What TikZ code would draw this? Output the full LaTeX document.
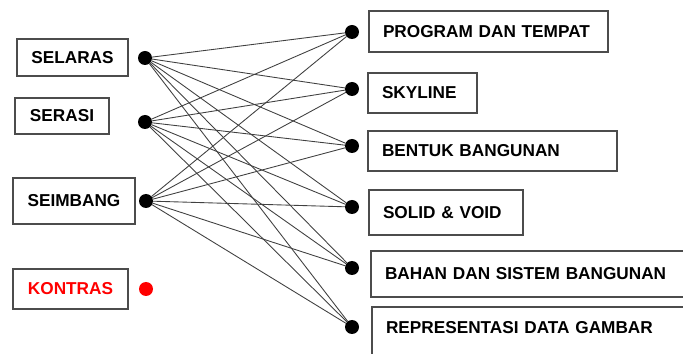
\documentclass[tikz,border=0pt]{standalone}
\usepackage{fontspec}
\setmainfont{Liberation Sans}
\usepackage{tikz}

\begin{document}
\begin{tikzpicture}[x=0.02cm, y=-0.02cm,
    every node/.style={font=\fontsize{9.8}{12}\selectfont\bfseries, outer sep=0pt},
    kiri/.style={draw=black!70, line width=0.7pt, inner sep=0pt},
    kanan/.style={draw=black!70, line width=0.7pt, anchor=west, align=left, inner xsep=0.28cm, inner ysep=0pt, text width=#1},
    titik/.style={circle, fill=black, inner sep=0pt, minimum size=0.28cm},
    garis/.style={draw=black!75, line width=0.5pt}]
    \clip (0,0) rectangle (683,354);

    % kotak kiri
    \node[kiri, minimum width=2.22cm, minimum height=0.74cm] (selaras) at (72.5,57.5) {SELARAS};
    \node[kiri, minimum width=1.88cm, minimum height=0.72cm] (serasi) at (62,116) {SERASI};
    \node[kiri, minimum width=2.44cm, minimum height=0.92cm] (seimbang) at (74,201) {SEIMBANG};
    \node[kiri, minimum width=2.30cm, minimum height=0.80cm, text=red] (kontras) at (70.5,289) {KONTRAS};

    % kotak kanan
    \node[kanan=4.22cm, minimum height=0.82cm] (program) at (369,31.5) {PROGRAM DAN TEMPAT};
    \node[kanan=1.62cm, minimum height=0.80cm] (skyline) at (368,93) {SKYLINE};
    \node[kanan=4.42cm, minimum height=0.80cm] (bentuk) at (368,151) {BENTUK BANGUNAN};
    \node[kanan=2.52cm, minimum height=0.90cm] (solid) at (369,212.5) {SOLID \& VOID};
    \node[kanan=6.02cm, minimum height=0.92cm] (bahan) at (371,274) {BAHAN DAN SISTEM BANGUNAN};
    \node[kanan=6.02cm, anchor=north west, inner ysep=0.27cm, text height=0.26cm, text depth=1.2cm] (representasi) at (372,307) {REPRESENTASI DATA GAMBAR};

    % titik
    \node[titik] (l1) at (145,58) {};
    \node[titik] (l2) at (145,122) {};
    \node[titik] (l3) at (146,201) {};
    \node[titik, fill=red] (lk) at (146,289) {};
    \node[titik] (r1) at (352,32) {};
    \node[titik] (r2) at (352,89) {};
    \node[titik] (r3) at (352,146) {};
    \node[titik] (r4) at (352,207) {};
    \node[titik] (r5) at (352,268) {};
    \node[titik] (r6) at (352,327) {};

    % garis penghubung
    \foreach \a in {l1,l2,l3}
        \foreach \b in {1,...,6}
            \draw[garis] (\a) -- (r\b);
\end{tikzpicture}
\end{document}
